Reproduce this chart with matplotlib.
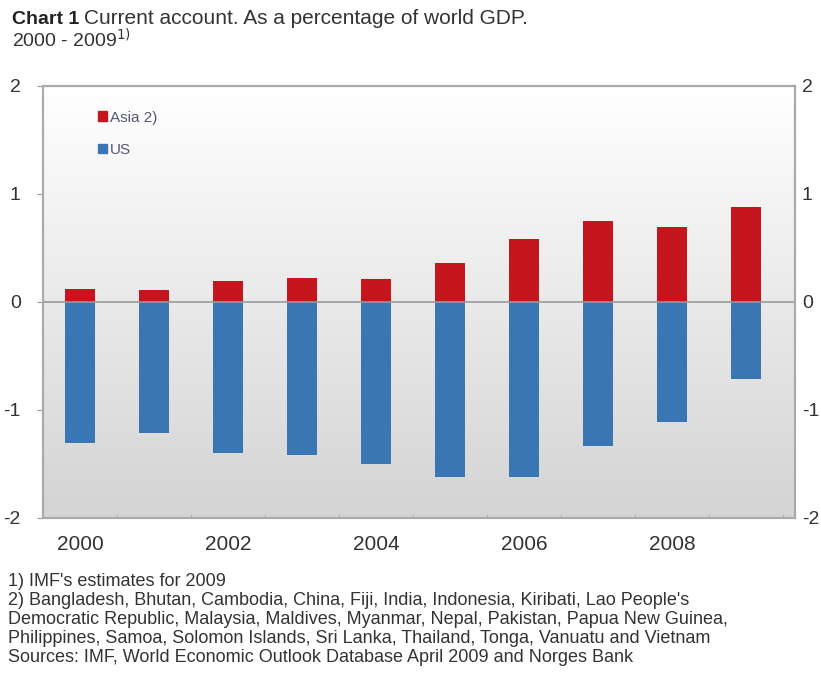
import numpy as np
import matplotlib.pyplot as plt
import matplotlib.patches as mpatches
from matplotlib.colors import LinearSegmentedColormap

years = [2000, 2001, 2002, 2003, 2004, 2005, 2006, 2007, 2008, 2009]
asia = [0.12, 0.11, 0.19, 0.22, 0.21, 0.36, 0.58, 0.75, 0.69, 0.88]
us = [-1.31, -1.21, -1.40, -1.42, -1.50, -1.62, -1.62, -1.33, -1.11, -0.71]
yticks = [-2, -1, 0, 1, 2]
xlabels = ['2000', '2002', '2004', '2006', '2008']

red = '#c4161c'
blue = '#3a76b3'
txt = '#333333'

plt.rcParams['font.family'] = ['Liberation Sans', 'DejaVu Sans']

fig = plt.figure(figsize=(8.21, 6.78), dpi=100)
ax = fig.add_axes([43/821, 1-518/678, (795-43)/821, (518-86)/678])

x = np.arange(len(years))
xlim = (-0.5, 9.66)
ylim = (-2, 2)

# fond dégradé : blanc en haut, gris en bas
grad = np.linspace(0.0, 1.0, 256).reshape(-1, 1)
cm = LinearSegmentedColormap.from_list('g', ['#d4d4d4', '#ffffff'])
ax.imshow(grad, extent=[xlim[0], xlim[1], ylim[0], ylim[1]], aspect='auto',
          cmap=cm, zorder=0, origin='lower')

ax.bar(x, asia, width=0.41, color=red, zorder=2)
ax.bar(x, us, width=0.41, color=blue, zorder=2)
ax.axhline(0, color='#999999', lw=1.2, zorder=3)

ax.set_xlim(*xlim)
ax.set_ylim(*ylim)
ax.set_xticks(x[::2])
ax.set_xticklabels(xlabels, fontsize=15, color=txt)
ax.set_xticks(np.arange(-0.5, 9.6, 1.0), minor=True)
ax.tick_params(axis='x', which='major', length=0, pad=12)
ax.tick_params(axis='x', which='minor', length=3, direction='in', color='#aaaaaa')
ax.set_yticks(yticks)
ax.set_yticklabels([str(v) for v in yticks], fontsize=14, color=txt)
ax.tick_params(axis='y', length=4, direction='out', color='#999999', pad=12)

ax2 = ax.twinx()
ax2.set_ylim(*ylim)
ax2.set_yticks(yticks)
ax2.set_yticklabels([str(v) for v in yticks], fontsize=14, color=txt)
ax2.tick_params(axis='y', length=0, pad=5)

for a in (ax, ax2):
    for s in a.spines.values():
        s.set_color('#aaaaaa')
        s.set_linewidth(1.5)

handles = [mpatches.Patch(color=red, label='Asia 2)'),
           mpatches.Patch(color=blue, label='US')]
ax.legend(handles=handles, loc='upper left', bbox_to_anchor=(0.055, 0.975), frameon=False,
          fontsize=11, handlelength=0.6, handleheight=0.6, handletextpad=0.2,
          labelspacing=1.2, labelcolor='#555577')

fig.text(12/821, 1-24/678, 'Chart 1', fontsize=14, fontweight='bold', color='#222222')
fig.text(84/821, 1-24/678, 'Current account. As a percentage of world GDP.', fontsize=15, color=txt)
fig.text(12/821, 1-47/678, r'2000 - 2009$^{1)}$', fontsize=14, color=txt)

notes = ["1) IMF's estimates for 2009",
         "2) Bangladesh, Bhutan, Cambodia, China, Fiji, India, Indonesia, Kiribati, Lao People's",
         "Democratic Republic, Malaysia, Maldives, Myanmar, Nepal, Pakistan, Papua New Guinea,",
         "Philippines, Samoa, Solomon Islands, Sri Lanka, Thailand, Tonga, Vanuatu and Vietnam",
         "Sources: IMF, World Economic Outlook Database April 2009 and Norges Bank"]
for i, n in enumerate(notes):
    fig.text(8/821, 1-(586+19*i)/678, n, fontsize=13, color=txt)

fig.savefig('out.png', dpi=100)
